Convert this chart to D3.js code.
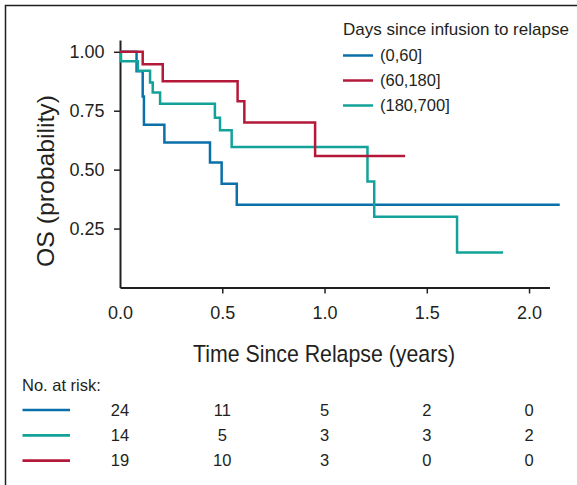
<!DOCTYPE html>
<html>
<head>
<meta charset="utf-8">
<script src="https://cdn.jsdelivr.net/npm/d3@7"></script>
<style>
  body { margin: 0; background: #fff; }
  svg { display: block; font-family: "Liberation Sans", Arial, sans-serif; }
  text { fill: #231f20; }
</style>
</head>
<body>
<div id="content"></div>
<script>
// groups / legend
var groups = ["(0,60]", "(60,180]", "(180,700]"];
var colors = ["#0b70aa", "#b4193a", "#13a29a"];

// KM step points (time in years, survival)
var blueTimes = [0, 0.081, 0.111, 0.117, 0.217, 0.44, 0.497, 0.571, 2.15];
var blueSurv  = [1, 0.917, 0.81, 0.69, 0.615, 0.53, 0.44, 0.351, 0.351];
var redTimes  = [0, 0.111, 0.209, 0.575, 0.608, 0.954, 1.394];
var redSurv   = [1, 0.947, 0.875, 0.79, 0.70, 0.558, 0.558];
var tealTimes = [0, 0.005, 0.087, 0.147, 0.16, 0.196, 0.464, 0.489, 0.546, 1.21, 1.243, 1.648, 1.873];
var tealSurv  = [1, 0.96, 0.92, 0.87, 0.827, 0.78, 0.72, 0.667, 0.596, 0.45, 0.30, 0.149, 0.149];

// axes
var xTicks = [0, 0.5, 1.0, 1.5, 2.0];
var yTicks = [0.25, 0.5, 0.75, 1.0];

// number at risk (rows in table order)
var riskLabels = ["(0,60]", "(180,700]", "(60,180]"];
var riskColors = ["#0b70aa", "#13a29a", "#b4193a"];
var blueRisk = [24, 11, 5, 2, 0];
var tealRisk = [14, 5, 3, 3, 2];
var redRisk  = [19, 10, 3, 0, 0];

var width = 577, height = 485;

var svg = d3.select("#content").append("svg")
    .attr("width", width)
    .attr("height", height);

// frame (top + left only, as in the figure)
svg.append("path")
    .attr("d", "M5.5,485V5.5H577")
    .attr("fill", "none")
    .attr("stroke", "#231f20")
    .attr("stroke-width", 1.5);

var x = d3.scaleLinear().domain([0, 2.1]).range([120, 549.5]);
var y = d3.scaleLinear().domain([0, 1.05]).range([287.5, 40]);

// x axis
var gx = svg.append("g")
    .attr("transform", "translate(0," + y(0) + ")")
    .call(d3.axisBottom(x).tickValues(xTicks).tickFormat(d3.format(".1f")).tickSize(6).tickSizeOuter(0));
// y axis
var gy = svg.append("g")
    .attr("transform", "translate(" + x(0) + ",0)")
    .call(d3.axisLeft(y).tickValues(yTicks).tickFormat(d3.format(".2f")).tickSize(6).tickSizeOuter(0));

[gx, gy].forEach(function(g) {
  g.select(".domain").attr("stroke", "#231f20").attr("stroke-width", 2);
  g.selectAll(".tick line").attr("stroke", "#231f20").attr("stroke-width", 1.5);
  g.selectAll(".tick text")
      .attr("fill", "#231f20")
      .style("font-size", "18px")
      .style("font-family", "'Liberation Sans', Arial, sans-serif");
});
gx.select(".tick line").remove(); // no tick at 0.0
gx.selectAll(".tick text").attr("y", 18.5);
gy.selectAll(".tick text").attr("x", -15.5);

// axis titles
svg.append("text")
    .attr("x", 193)
    .attr("y", 362)
    .attr("textLength", 262)
    .attr("lengthAdjust", "spacingAndGlyphs")
    .style("font-size", "24.5px")
    .text("Time Since Relapse (years)");

svg.append("text")
    .attr("transform", "translate(54,267) rotate(-90)")
    .attr("textLength", 172)
    .attr("lengthAdjust", "spacingAndGlyphs")
    .style("font-size", "24.5px")
    .text("OS (probability)");

// curves
var line = d3.line()
    .x(function(d) { return x(d.t); })
    .y(function(d) { return y(d.s); })
    .curve(d3.curveStepAfter);

function toPoints(times, surv) {
  return times.map(function(t, i) { return {t: t, s: surv[i]}; });
}

var curves = [
  {pts: toPoints(blueTimes, blueSurv), color: colors[0]},
  {pts: toPoints(tealTimes, tealSurv), color: colors[2]},
  {pts: toPoints(redTimes, redSurv), color: colors[1]}
];

svg.selectAll(".km")
    .data(curves)
  .enter().append("path")
    .attr("class", "km")
    .attr("d", function(d) { return line(d.pts); })
    .attr("fill", "none")
    .attr("stroke", function(d) { return d.color; })
    .attr("stroke-width", 2.5);

// legend
var leg = svg.append("g");
leg.append("text")
    .attr("x", 343)
    .attr("y", 35)
    .style("font-size", "17px")
    .text("Days since infusion to relapse");

var items = leg.selectAll(".item")
    .data(groups)
  .enter().append("g")
    .attr("class", "item")
    .attr("transform", function(d, i) { return "translate(343," + (55.5 + i * 25) + ")"; });
items.append("line")
    .attr("x1", 0).attr("x2", 30)
    .attr("stroke", function(d, i) { return colors[i]; })
    .attr("stroke-width", 2.5);
items.append("text")
    .attr("x", 37)
    .attr("y", 5.5)
    .style("font-size", "16.5px")
    .text(function(d) { return d; });

// number at risk table
svg.append("text")
    .attr("x", 22)
    .attr("y", 390.5)
    .style("font-size", "16.5px")
    .text("No. at risk:");

var riskRows = [blueRisk, tealRisk, redRisk];
var rows = svg.selectAll(".risk")
    .data(riskRows)
  .enter().append("g")
    .attr("class", "risk")
    .attr("transform", function(d, i) { return "translate(0," + (410 + i * 25.3) + ")"; });
rows.append("line")
    .attr("x1", 22.5).attr("x2", 70)
    .attr("stroke", function(d, i) { return riskColors[i]; })
    .attr("stroke-width", 2.7);
rows.selectAll("text")
    .data(function(d) { return d; })
  .enter().append("text")
    .attr("x", function(d, i) { return x(xTicks[i]); })
    .attr("y", 5.5)
    .attr("text-anchor", "middle")
    .style("font-size", "16.5px")
    .text(function(d) { return d; });
</script>
</body>
</html>
